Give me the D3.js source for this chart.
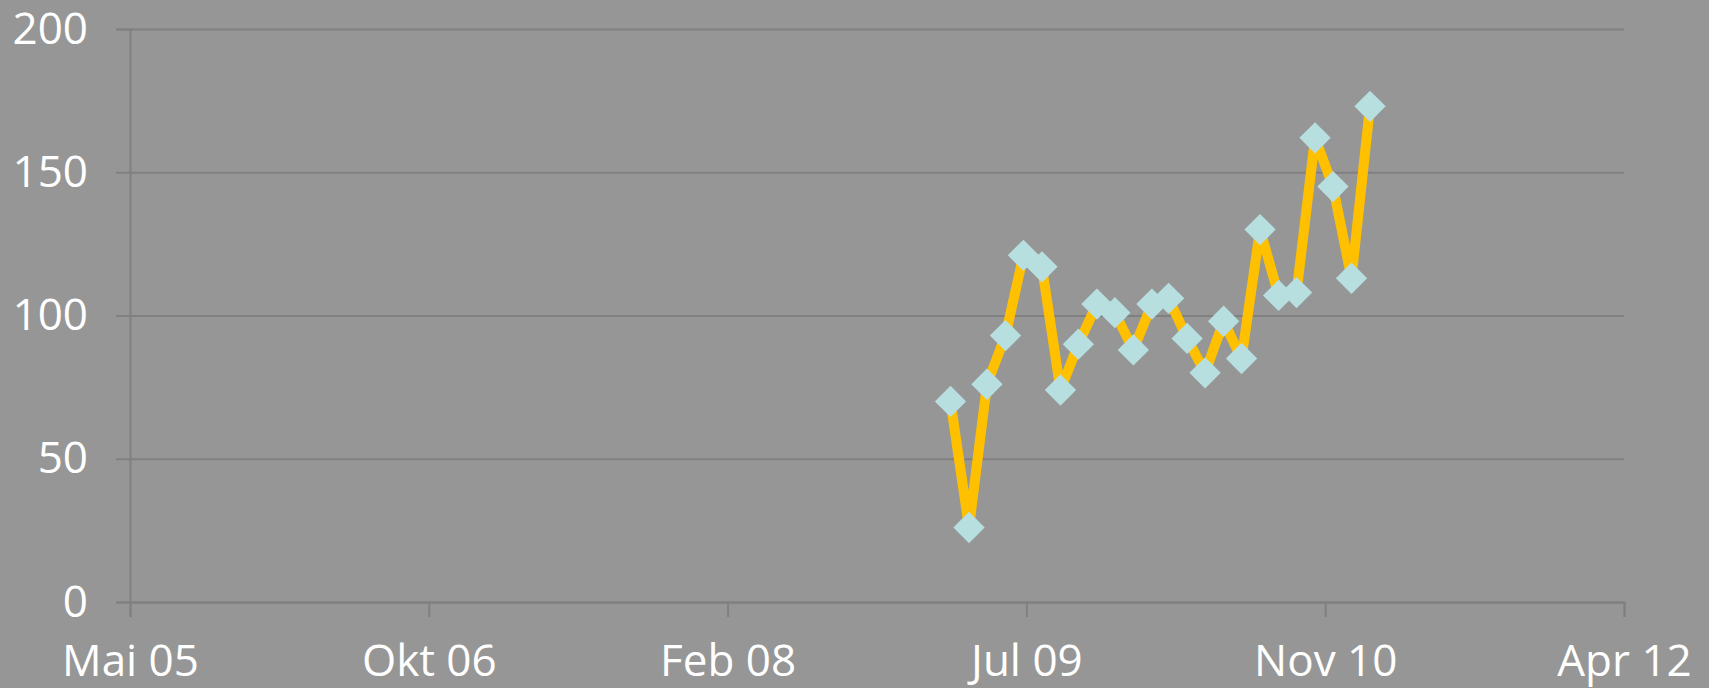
<!DOCTYPE html>
<html>
<head>
<meta charset="utf-8">
<script src="https://cdn.jsdelivr.net/npm/d3@7"></script>
<style>
  html, body { margin: 0; padding: 0; background: #969696; }
  svg { display: block; }
</style>
</head>
<body>
<div id="chart"></div>
<script>
// monthly values, first of month, Mar 2009 .. Feb 2011
const months = [
  "2009-03-01","2009-04-01","2009-05-01","2009-06-01","2009-07-01","2009-08-01",
  "2009-09-01","2009-10-01","2009-11-01","2009-12-01","2010-01-01","2010-02-01",
  "2010-03-01","2010-04-01","2010-05-01","2010-06-01","2010-07-01","2010-08-01",
  "2010-09-01","2010-10-01","2010-11-01","2010-12-01","2011-01-01","2011-02-01"
]
const values = [70, 26, 76, 93, 121, 117, 74, 90, 104, 101, 88, 104,
                106, 92, 80, 98, 85, 130, 107, 108, 162, 145, 113, 173]

// axis every 500 days (Excel date axis)
const xTickDates = ["2005-05-28","2006-10-10","2008-02-22","2009-07-06","2010-11-18","2012-04-01"]
const xTickLabels = ["Mai 05","Okt 06","Feb 08","Jul 09","Nov 10","Apr 12"]
const yTicks = [0, 50, 100, 150, 200]

const width = 1709, height = 688
const margin = {left: 130, right: 85, top: 29, bottom: 86}

const parse = d3.utcParse("%Y-%m-%d")
const data = months.map((m, i) => ({date: parse(m), value: values[i]}))
const tickDates = xTickDates.map(parse)

const svg = d3.select("#chart")
  .append("svg")
  .attr("width", width)
  .attr("height", height)

svg.append("rect")
  .attr("width", width)
  .attr("height", height)
  .attr("fill", "#969696")

const x = d3.scaleUtc()
  .domain([tickDates[0], tickDates[tickDates.length - 1]])
  .range([margin.left, width - margin.right])

const y = d3.scaleLinear()
  .domain([0, 200])
  .range([height - margin.bottom, margin.top])

const gridColor = "#808080"
const font = "'Open Sans', sans-serif"

// y axis + gridlines
const yAxis = svg.append("g")
  .attr("transform", `translate(${margin.left},0)`)
  .call(d3.axisLeft(y).tickValues(yTicks).tickSize(14).tickPadding(28))
yAxis.select(".domain").attr("stroke", gridColor).attr("stroke-width", 2)
yAxis.selectAll(".tick line").attr("stroke", gridColor).attr("stroke-width", 2)
yAxis.selectAll(".tick text")
  .attr("fill", "#ffffff")
  .style("font-family", font)
  .style("font-size", "44px")
yAxis.selectAll(".tick").append("line")
  .attr("x1", 0)
  .attr("x2", width - margin.right - margin.left)
  .attr("stroke", gridColor)
  .attr("stroke-width", 2)

// x axis
const xAxis = svg.append("g")
  .attr("transform", `translate(0,${height - margin.bottom})`)
  .call(d3.axisBottom(x).tickValues(tickDates)
    .tickFormat((d, i) => xTickLabels[i]).tickSize(15).tickPadding(19))
xAxis.select(".domain").attr("stroke", gridColor).attr("stroke-width", 2)
xAxis.selectAll(".tick line").attr("stroke", gridColor).attr("stroke-width", 2)
xAxis.selectAll(".tick text")
  .attr("fill", "#ffffff")
  .attr("dy", "0.9em")
  .style("font-family", font)
  .style("font-size", "44px")

// line
const line = d3.line()
  .x(d => x(d.date))
  .y(d => y(d.value))

svg.append("path")
  .datum(data)
  .attr("fill", "none")
  .attr("stroke", "#FFC000")
  .attr("stroke-width", 10)
  .attr("stroke-linejoin", "round")
  .attr("d", line)

// diamond markers
const diamond = d3.symbol().type(d3.symbolSquare).size(490)
svg.append("g")
  .selectAll("path")
  .data(data)
  .enter()
  .append("path")
    .attr("d", diamond)
    .attr("transform", d => `translate(${x(d.date)},${y(d.value)}) rotate(45)`)
    .attr("fill", "#B7DFE0")
</script>
</body>
</html>
